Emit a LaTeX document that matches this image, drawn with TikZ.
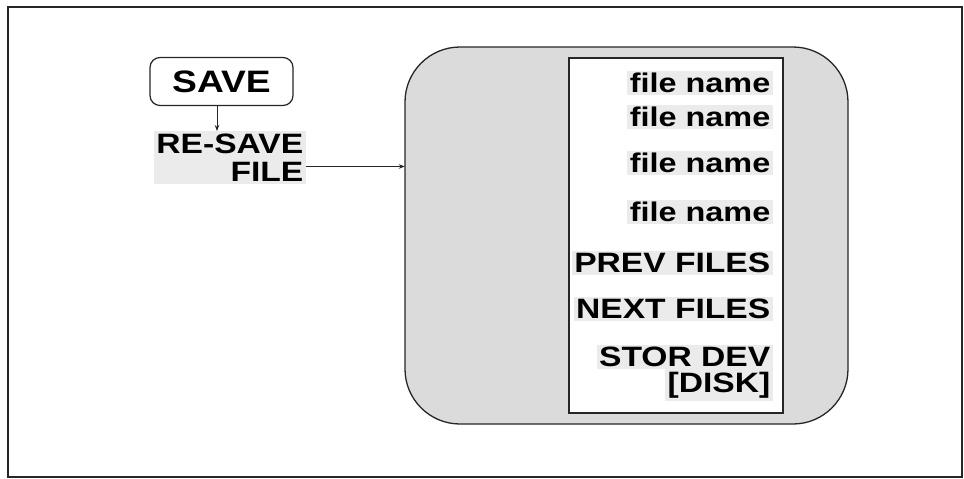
\documentclass[tikz,border=0pt]{standalone}
\usepackage{fontspec}
\setmainfont{Liberation Sans}[FakeStretch=1.2]
\usetikzlibrary{arrows.meta}
\tikzset{
  frame/.style={draw=black!85, line width=1.4pt},
  keybox/.style={draw=black!85, line width=1.2pt, rounded corners=10pt, fill=white,
    minimum width=143pt, minimum height=48pt, inner sep=0pt,
    font=\fontsize{31}{33}\selectfont\bfseries},
  menubox/.style={draw=black!85, line width=1.3pt, rounded corners=55pt, fill=black!14},
  listbox/.style={draw=black!85, line width=1.1pt, fill=white},
  softkey/.style={fill=black!8, inner sep=2.5pt, anchor=east,
    font=\fontsize{27}{28}\selectfont\bfseries},
  capkey/.style={fill=black!8, inner sep=2.5pt, anchor=east,
    font=\fontsize{28}{28}\selectfont\bfseries},
  conn/.style={draw=black!85, line width=0.9pt, -{Stealth[length=6pt,width=4.5pt]}},
}
\begin{document}
\begin{tikzpicture}[x=1pt,y=-1pt]
\useasboundingbox (0,0) rectangle (964,479);
\draw[frame] (8,7) rectangle (962,477);
% SAVE key
\node[keybox] (save) at (221.5,81.5) {SAVE};
% RE-SAVE FILE label
\node[fill=black!8, inner sep=2.5pt, anchor=north east, align=right,
  font=\fontsize{28}{28}\selectfont\bfseries] (resave) at (306,131) {RE-SAVE\\FILE};
% menu box
\draw[menubox] (405,47) rectangle (848,424);
\node[inner sep=0pt, minimum width=443pt, minimum height=377pt] (menu) at (626.5,235.5) {};
\draw[listbox] (569,58) rectangle (783,413);
% entries
\node[softkey] (f1) at (773,83) {file name};
\node[softkey] (f2) at (773,117) {file name};
\node[softkey] (f3) at (773,163) {file name};
\node[softkey] (f4) at (773,212) {file name};
\node[capkey] (prev) at (773,263) {PREV FILES};
\node[capkey] (next) at (773,309) {NEXT FILES};
\node[capkey] (stor) at (773,357) {STOR DEV};
\node[capkey] (disk) at (773,385) {[DISK]};
% connectors
\draw[conn] ([xshift=-4.5pt]save.south) -- ([xshift=-4.5pt]save.south |- resave.north);
\draw[conn] ([yshift=-9pt]resave.east) -- ([yshift=-9pt]resave.east -| menu.west);
\end{tikzpicture}
\end{document}
